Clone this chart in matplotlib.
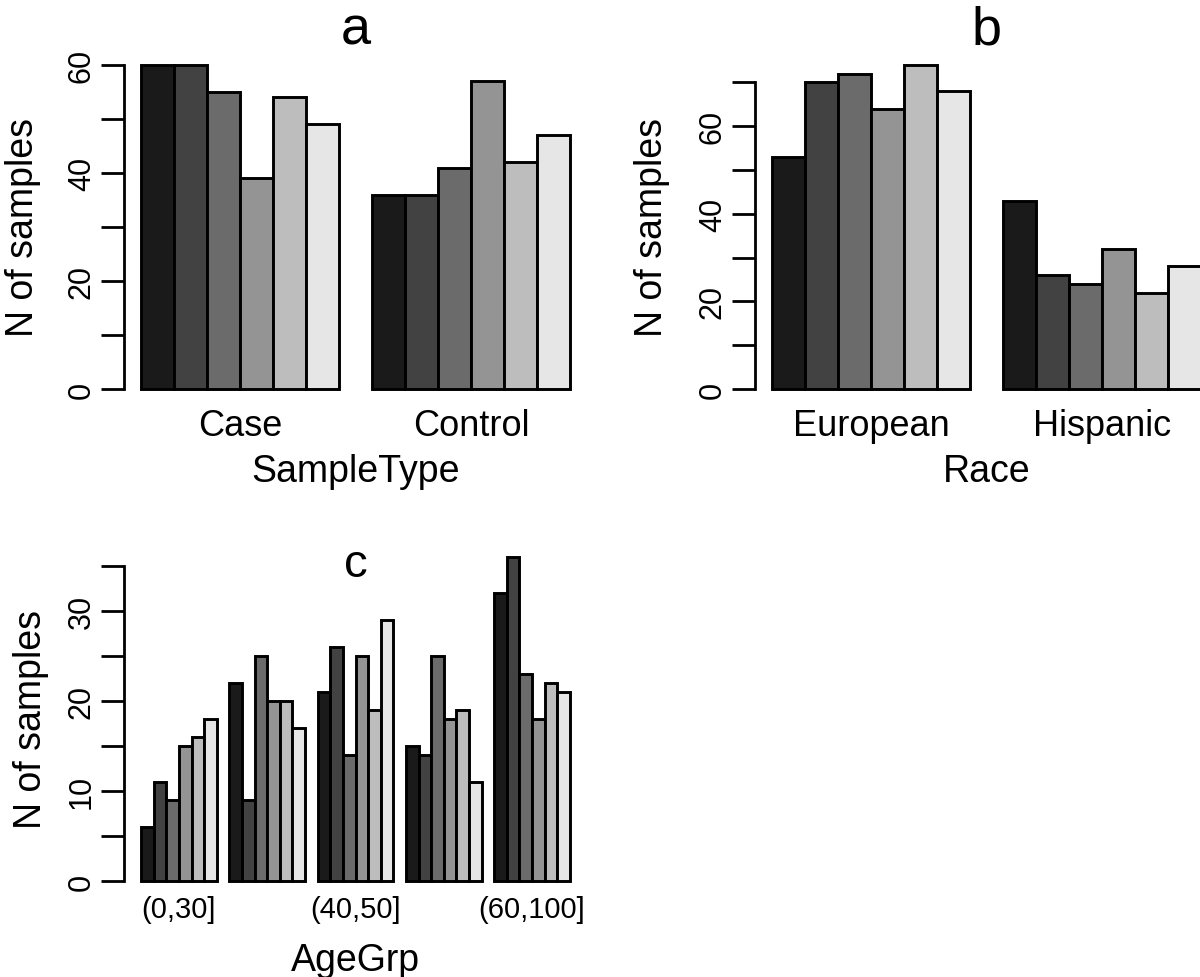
"""
Sample composition bar charts (panels a, b, c).
"""

import matplotlib.pyplot as plt
import numpy as np


plt.rcParams["font.family"] = ["Liberation Sans", "DejaVu Sans"]

FIG_W, FIG_H = 1200, 978

# grey ramp used for the six bars inside each group
BAR_COLORS = ["#1a1a1a", "#424242", "#6b6b6b", "#949494", "#bdbdbd", "#e6e6e6"]

sample_types = ["Case", "Control"]
sample_counts = [
    [60, 60, 55, 39, 54, 49],
    [36, 36, 41, 57, 42, 47],
]
sample_ticks = [0, 10, 20, 30, 40, 50, 60]
sample_tick_labels = ["0", "", "20", "", "40", "", "60"]

races = ["European", "Hispanic"]
race_counts = [
    [53, 70, 72, 64, 74, 68],
    [43, 26, 24, 32, 22, 28],
]
race_ticks = [0, 10, 20, 30, 40, 50, 60, 70]
race_tick_labels = ["0", "", "20", "", "40", "", "60", ""]

# R drops the overlapping names, only every other one is printed
age_groups = ["(0,30]", "", "(40,50]", "", "(60,100]"]
age_counts = [
    [6, 11, 9, 15, 16, 18],
    [22, 9, 25, 20, 20, 17],
    [21, 26, 14, 25, 19, 29],
    [15, 14, 25, 18, 19, 11],
    [32, 36, 23, 18, 22, 21],
]
age_ticks = [0, 5, 10, 15, 20, 25, 30, 35]
age_tick_labels = ["0", "", "10", "", "20", "", "30", ""]


def add_axes_px(fig, left, top, width, height):
    """
    Add axes using pixel coordinates measured from the top left corner.
    """

    return fig.add_axes(
        [
            left / FIG_W,
            1 - (top + height) / FIG_H,
            width / FIG_W,
            height / FIG_H,
        ]
    )


def grouped_barplot(ax, counts, names, yticks, ytick_labels, xlabel, title,
                    name_size=26, title_size=39, title_y=1.023,
                    name_pad=4.5, xlabel_y=-0.146, ylabel_x=-0.179):
    """
    Mimic an R barplot(beside=TRUE) with space=c(0, 1).
    """

    counts = np.asarray(counts)
    n_groups, n_bars = counts.shape

    for g in range(n_groups):
        lefts = g * (n_bars + 1) + 1 + np.arange(n_bars)
        ax.bar(
            lefts,
            counts[g],
            width=1,
            align="edge",
            color=BAR_COLORS,
            edgecolor="black",
            linewidth=2.1,
        )

    total = n_groups * (n_bars + 1)
    ext = 0.04 * (total - 1)
    ax.set_xlim(1 - ext, total + ext)

    ymax = counts.max()
    ax.set_ylim(-0.04 * ymax, 1.04 * ymax)

    centers = np.arange(n_groups) * (n_bars + 1) + 1 + n_bars / 2
    ax.set_xticks(centers, names, fontsize=name_size)
    ax.tick_params(axis="x", length=0, pad=name_pad)

    ax.set_yticks(yticks, ytick_labels, fontsize=22, rotation=90, va="center")
    ax.tick_params(axis="y", length=16.5, width=2.0, pad=3)

    for side in ["top", "right", "bottom"]:
        ax.spines[side].set_visible(False)
    ax.spines["left"].set_linewidth(2.0)
    ax.spines["left"].set_bounds(yticks[0], yticks[-1])

    ax.set_xlabel(xlabel, fontsize=27)
    ax.xaxis.set_label_coords(0.5, xlabel_y)

    ax.set_ylabel("N of samples", fontsize=27)
    ax.yaxis.set_label_coords(ylabel_x, 0.5)

    ax.text(
        0.5,
        title_y,
        title,
        transform=ax.transAxes,
        ha="center",
        va="baseline",
        fontsize=title_size,
    )


def main():
    fig = plt.figure(figsize=(FIG_W / 100, FIG_H / 100), dpi=100)

    ax_a = add_axes_px(fig, 124, 53, 463, 350)
    grouped_barplot(
        ax_a,
        sample_counts,
        sample_types,
        sample_ticks,
        sample_tick_labels,
        "SampleType",
        "a",
    )

    ax_b = add_axes_px(fig, 755, 53, 463, 350)
    grouped_barplot(
        ax_b,
        race_counts,
        races,
        race_ticks,
        race_tick_labels,
        "Race",
        "b",
        ylabel_x=-0.184,
    )

    ax_c = add_axes_px(fig, 124, 545, 463, 350)
    grouped_barplot(
        ax_c,
        age_counts,
        age_groups,
        age_ticks,
        age_tick_labels,
        "AgeGrp",
        "c",
        name_size=21,
        title_size=34,
        title_y=0.909,
        name_pad=1,
        xlabel_y=-0.137,
        ylabel_x=-0.162,
    )

    fig.savefig("out.png", dpi=100)
    plt.close(fig)


if __name__ == "__main__":
    main()
